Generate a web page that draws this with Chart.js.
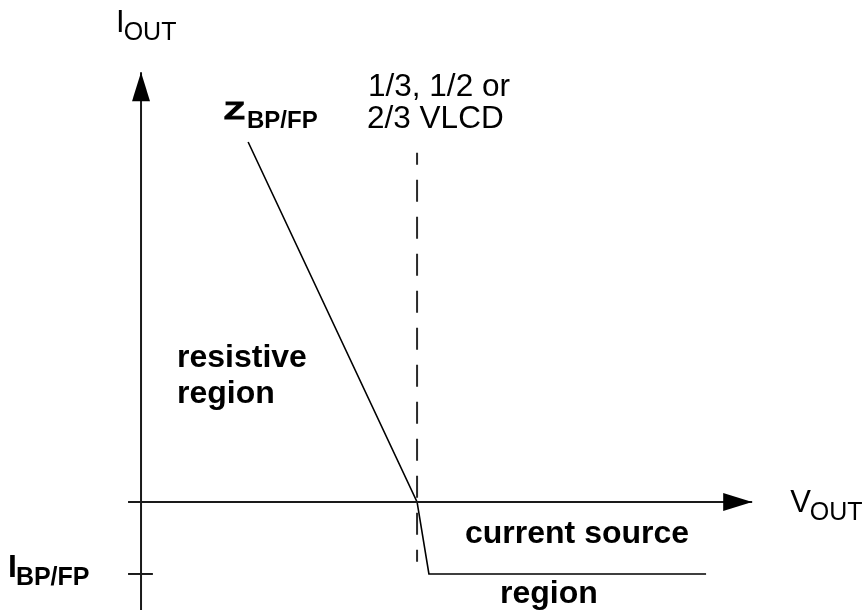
<!DOCTYPE html>
<html>
<head>
<meta charset="utf-8">
<script src="https://cdn.jsdelivr.net/npm/chart.js@4"></script>
<style>
  html, body { margin: 0; padding: 0; background: #fff; }
  #chart { display: block; }
</style>
</head>
<body>
<canvas id="chart" width="867" height="614"></canvas>
<script>
// output characteristic (V in units of the bias level, I in units of I_BP/FP)
const vCurve = [0.388, 1.0, 1.043, 2.047];
const iCurve = [5.0, 0, -1, -1];

// dashed marker at the bias voltage
const vMarker = [1.0, 1.0];
const iMarker = [4.85, -0.83];

// axes and the I_BP/FP tick
const xAxisV = [-0.047, 2.214];
const xAxisI = [0, 0];
const yAxisV = [0, 0];
const yAxisI = [-1.5, 5.97];
const tickV = [-0.047, 0.043];
const tickI = [-1, -1];

const pts = (xs, ys) => xs.map((x, i) => ({ x: x, y: ys[i] }));

const font = 'Liberation Sans, Arial, sans-serif';

function subText(ctx, main, sub, x, y, size, subSize, bold, drop) {
    const w = bold ? 'bold ' : '';
    ctx.font = w + size + 'px ' + font;
    ctx.fillText(main, x, y);
    const mw = ctx.measureText(main).width;
    ctx.font = w + subSize + 'px ' + font;
    ctx.fillText(sub, x + mw - 1, y + drop);
}

const labels = {
    id: 'labels',
    afterDraw(chart) {
        const ctx = chart.ctx;
        const xs = chart.scales.x, ys = chart.scales.y;
        const X = (v) => xs.getPixelForValue(v);
        const Y = (v) => ys.getPixelForValue(v);

        ctx.save();
        ctx.fillStyle = '#000';
        ctx.textBaseline = 'alphabetic';

        // arrowheads
        const ax = X(xAxisV[1]), ay = Y(0);
        ctx.beginPath();
        ctx.moveTo(ax, ay);
        ctx.lineTo(ax - 29, ay - 9);
        ctx.lineTo(ax - 29, ay + 9);
        ctx.closePath();
        ctx.fill();
        const bx = X(0), by = Y(yAxisI[1]);
        ctx.beginPath();
        ctx.moveTo(bx, by);
        ctx.lineTo(bx - 9, by + 29);
        ctx.lineTo(bx + 9, by + 29);
        ctx.closePath();
        ctx.fill();

        // axis names
        subText(ctx, 'I', 'OUT', bx - 25, by - 40, 31, 25, false, 8);
        subText(ctx, 'V', 'OUT', ax + 38, ay + 10, 31, 25, false, 8);

        // Z label: the Z glyph is short and wide in the original
        ctx.save();
        ctx.translate(224, 119);
        ctx.scale(1, 0.68);
        ctx.font = 'bold 34px ' + font;
        ctx.strokeStyle = '#000';
        ctx.lineWidth = 1.4;
        ctx.fillText('Z', 0, 0);
        ctx.strokeText('Z', 0, 0);
        ctx.restore();
        ctx.font = 'bold 24px ' + font;
        ctx.fillText('BP/FP', 247, 128);

        subText(ctx, 'I', 'BP/FP', 8, Y(-1) + 3, 32, 25, true, 8);

        ctx.font = '31.5px ' + font;
        ctx.fillText('1/3, 1/2 or', X(1) - 49, 96);
        ctx.fillText('2/3 VLCD', X(1) - 50, 128);

        ctx.font = 'bold 32px ' + font;
        ctx.fillText('resistive', 177, 367);
        ctx.fillText('region', 177, 403);
        ctx.fillText('current source', 465, 543);
        ctx.fillText('region', 500, 603);
        ctx.restore();
    }
};

new Chart(document.getElementById('chart'), {
    type: 'scatter',
    data: {
        datasets: [
            { data: pts(xAxisV, xAxisI), showLine: true, borderColor: '#1a1a1a', borderWidth: 2 },
            { data: pts(yAxisV, yAxisI), showLine: true, borderColor: '#1a1a1a', borderWidth: 2 },
            { data: pts(tickV, tickI), showLine: true, borderColor: '#1a1a1a', borderWidth: 2 },
            { data: pts(vMarker, iMarker), showLine: true, borderColor: '#2a2a2a', borderWidth: 2, borderDash: [22, 15], borderDashOffset: 10 },
            { data: pts(vCurve, iCurve), showLine: true, borderColor: '#000', borderWidth: 1.6 }
        ]
    },
    options: {
        responsive: false,
        animation: false,
        layout: { padding: 0 },
        elements: { point: { radius: 0, hoverRadius: 0 }, line: { tension: 0 } },
        plugins: { legend: { display: false }, tooltip: { enabled: false } },
        scales: {
            x: { type: 'linear', display: false, min: -0.5109, max: 2.630 },
            y: { type: 'linear', display: false, min: -1.556, max: 6.972 }
        }
    },
    plugins: [labels]
});
</script>
</body>
</html>
